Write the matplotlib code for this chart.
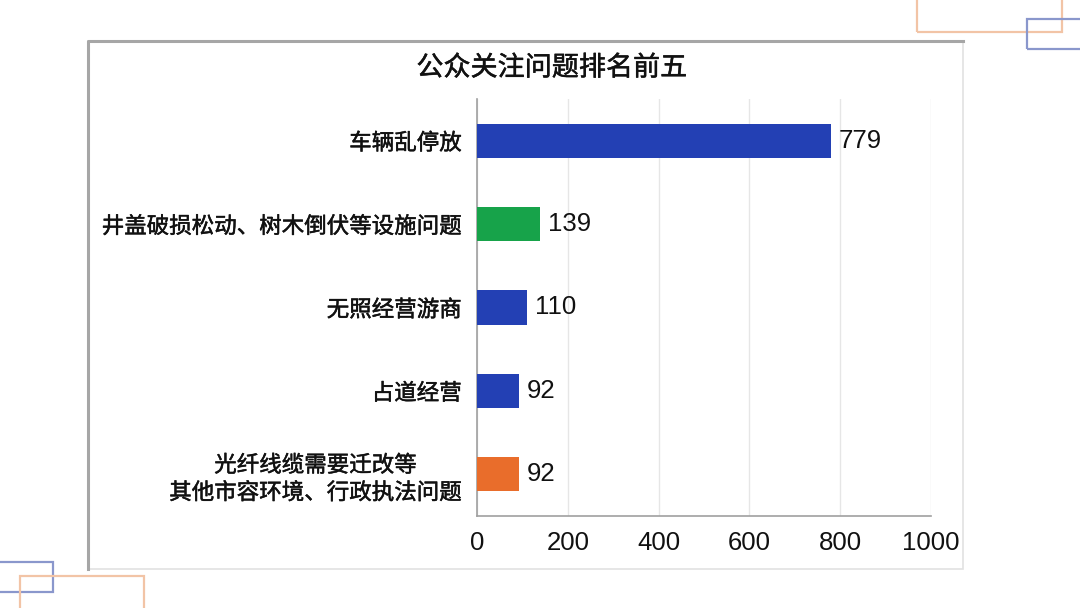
import matplotlib.pyplot as plt
import matplotlib.patheffects as pe
from matplotlib.patches import Rectangle

plt.rcParams['font.family'] = ['Noto Sans CJK SC', 'DejaVu Sans']

# data
categories = [
    "车辆乱停放",
    "井盖破损松动、树木倒伏等设施问题",
    "无照经营游商",
    "占道经营",
    "光纤线缆需要迁改等\n其他市容环境、行政执法问题",
]
counts = [779, 139, 110, 92, 92]
bar_colors = ["#2340b4", "#17a34a", "#2340b4", "#2340b4", "#e96d2b"]
x_ticks = [0, 200, 400, 600, 800, 1000]
title = "公众关注问题排名前五"

W, H = 1080, 608
fig = plt.figure(figsize=(W / 100, H / 100), dpi=100)
fig.patch.set_facecolor("white")

# a touch heavier than regular, lighter than bold
medium = [pe.withStroke(linewidth=0.35, foreground="#111111")]


def px_rect(x0, y0, x1, y1, **kw):
    # rectangle in pixel coords (origin top-left)
    return Rectangle(
        (x0 / W, 1 - y1 / H), (x1 - x0) / W, (y1 - y0) / H,
        transform=fig.transFigure, fill=False, **kw
    )


# decorative frames
fig.patches.append(px_rect(917, -5, 1062, 32, edgecolor="#f2c4a6", linewidth=1.6))
fig.patches.append(px_rect(1027, 19, 1090, 49, edgecolor="#8a97cc", linewidth=1.6))
fig.patches.append(px_rect(-10, 562, 53, 592, edgecolor="#8a97cc", linewidth=1.6))
fig.patches.append(px_rect(20, 576, 144, 620, edgecolor="#f2c4a6", linewidth=1.6))

# panel border
fig.patches.append(px_rect(88, 41, 963, 569, edgecolor="#e2e2e2", linewidth=1.2))
fig.lines.append(plt.Line2D([88 / W, 88 / W, 963 / W], [1 - 569 / H, 1 - 41 / H, 1 - 41 / H],
                            transform=fig.transFigure, color="#a6a6a6", linewidth=2.2))

ax = fig.add_axes([477 / W, 1 - 516 / H, (931 - 477) / W, (516 - 99) / H])
ax.set_facecolor("none")

ypos = list(range(len(categories)))
bars = ax.barh(ypos, counts, height=0.41, color=bar_colors, zorder=3)
ax.set_ylim(len(categories) - 0.5, -0.5)
ax.set_xlim(0, 1000)

for y, v in zip(ypos, counts):
    ax.annotate(
        str(v), (v, y), xytext=(6, 0), textcoords="offset points",
        va="center", ha="left", fontsize=18.5, family=["Liberation Sans", "DejaVu Sans"],
        color="#111111",
    )

ax.set_yticks(ypos)
ax.set_yticklabels(categories, fontsize=16.2, color="#111111",
                   multialignment="center", linespacing=1.25)
for lab in ax.get_yticklabels():
    lab.set_path_effects(medium)
ax.set_xticks(x_ticks)
ax.set_xticklabels([str(t) for t in x_ticks], fontsize=18.5,
                   family=["Liberation Sans", "DejaVu Sans"], color="#111111")
ax.tick_params(axis="both", length=0)
ax.tick_params(axis="y", pad=11)
ax.tick_params(axis="x", pad=11)

ax.grid(axis="x", color="#e6e6e6", linewidth=1.0, zorder=0)
for side in ["top", "right"]:
    ax.spines[side].set_visible(False)
ax.spines["left"].set_color("#a0a0a0")
ax.spines["bottom"].set_color("#a0a0a0")
ax.spines["left"].set_linewidth(1.2)
ax.spines["bottom"].set_linewidth(1.2)

fig.text(552 / W, 1 - 68 / H, title, ha="center", va="center",
         fontsize=19.5, color="#111111", path_effects=medium)

fig.savefig("out.png", dpi=100)
plt.close(fig)
